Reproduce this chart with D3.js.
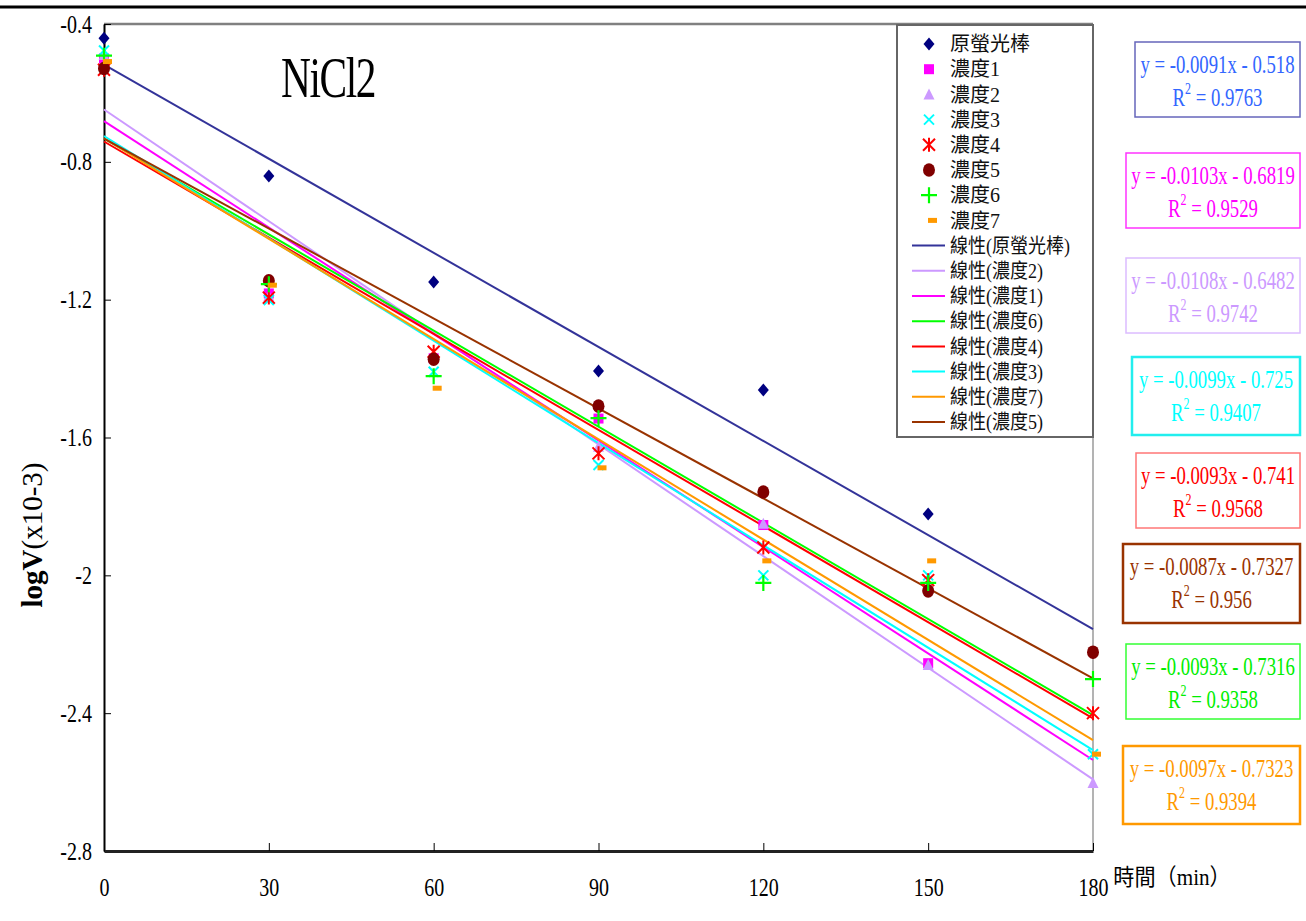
<!DOCTYPE html>
<html><head><meta charset="utf-8">
<script src="https://cdn.jsdelivr.net/npm/d3@7"></script>
<style>body{margin:0;background:#fff} svg{display:block}</style>
</head><body>
<svg id="chart" width="1306" height="921"></svg>
<script>
// Sampling times (min)
const xValues = [0, 30, 60, 90, 120, 150, 180];
const seriesNames = ["原螢光棒", "濃度1", "濃度2", "濃度3", "濃度4", "濃度5", "濃度6", "濃度7"];
// logV readings per series
const originalStick = [-0.441, -0.841, -1.149, -1.407, -1.462, -1.822, -2.224];
const conc1 = [-0.500, -1.182, -1.370, -1.545, -1.854, -2.255, null];
const conc2 = [-0.490, -1.190, -1.365, -1.627, -1.850, -2.260, -2.603];
const conc3 = [-0.477, -1.201, -1.409, -1.680, -2.000, -2.000, -2.519];
const conc4 = [-0.533, -1.194, -1.351, -1.646, -1.919, -2.014, -2.400];
const conc5 = [-0.529, -1.145, -1.373, -1.509, -1.758, -2.045, -2.223];
const conc6 = [-0.492, -1.155, -1.422, -1.544, -2.022, -2.022, -2.301];
const conc7 = [-0.509, -1.158, -1.457, -1.688, -1.958, -1.958, -2.519];
// Linear trend fits
const trendSlopes = [-0.0091, -0.0103, -0.0108, -0.0099, -0.0093, -0.0087, -0.0093, -0.0097];
const trendIntercepts = [-0.518, -0.6819, -0.6482, -0.725, -0.741, -0.7327, -0.7316, -0.7323];
const trendR2 = ["0.9763", "0.9529", "0.9742", "0.9407", "0.9568", "0.956", "0.9358", "0.9394"];
// Axis ticks
const yTickValues = [-0.4, -0.8, -1.2, -1.6, -2, -2.4, -2.8];
const yTickLabels = ["-0.4", "-0.8", "-1.2", "-1.6", "-2", "-2.4", "-2.8"];
const xTickValues = [0, 30, 60, 90, 120, 150, 180];
const xTickLabels = ["0", "30", "60", "90", "120", "150", "180"];
// Legend order of the trend lines
const trendOrder = [0, 2, 1, 6, 4, 3, 7, 5];

const seriesValues = [originalStick, conc1, conc2, conc3, conc4, conc5, conc6, conc7];

// ---- styling ----
const markerTypes = ["diamond", "square", "triangle", "x", "asterisk", "circle", "plus", "dash"];
const markerColors = ["#000080", "#ff00ff", "#cc99ff", "#00ffff", "#ff0000", "#800000", "#00ff00", "#ff9900"];
const lineColors = ["#333399", "#ff00ff", "#cc99ff", "#00ffff", "#ff0000", "#993300", "#00ff00", "#ff9900"];
const eqTextColors = ["#3366ff", "#ff00ff", "#cc99ff", "#00ffff", "#ff0000", "#993300", "#00ee00", "#ff9900"];
const eqBorderColors = ["#6666bb", "#ff33ff", "#dcbcff", "#22eeee", "#ff7777", "#993300", "#33ff33", "#ff9900"];
const eqBorderWidths = [1.5, 1.5, 1.5, 2.5, 1.5, 2.5, 1.5, 2.5];
const eqBoxes = [
  [1135, 42, 165, 75], [1126, 153, 174, 75], [1126, 258, 174, 75], [1132, 357, 168, 78],
  [1136, 453, 164, 75], [1123, 544, 177, 79], [1126, 644, 174, 75], [1123, 746, 177, 78]
];
const serif = "'Liberation Serif','Times New Roman','Noto Sans CJK TC',serif";
const squeeze = 0.8;
const eqSqueeze = 0.75;

const svg = d3.select("#chart");
const margin = {left: 104, right: 1093, top: 24, bottom: 851};

const x = d3.scaleLinear().domain([0, 180]).range([margin.left, margin.right]);
const y = d3.scaleLinear().domain([-2.8, -0.4]).range([margin.bottom, margin.top]);

// page rule at the top
svg.append("line").attr("x1", 0).attr("x2", 1306).attr("y1", 7).attr("y2", 7)
  .attr("stroke", "#000").attr("stroke-width", 3);

// plot frame (top & right)
svg.append("line").attr("x1", x(0)).attr("x2", x(180)).attr("y1", y(-0.4)).attr("y2", y(-0.4))
  .attr("stroke", "#808080").attr("stroke-width", 2.5);
svg.append("line").attr("x1", x(180)).attr("x2", x(180)).attr("y1", y(-0.4)).attr("y2", y(-2.8))
  .attr("stroke", "#9a9a9a").attr("stroke-width", 1.5);

// y axis
const yAxis = svg.append("g").attr("transform", `translate(${x(0)},0)`)
  .call(d3.axisLeft(y).tickValues(yTickValues).tickFormat((d, i) => yTickLabels[i])
    .tickSizeInner(-7).tickSizeOuter(0).tickPadding(15));
yAxis.select(".domain").attr("stroke", "#000").attr("stroke-width", 2);
yAxis.selectAll(".tick line").attr("stroke", "#000").attr("stroke-width", 1);
yAxis.selectAll(".tick text").attr("font-family", serif).attr("font-size", 25)
  .attr("fill", "#000").attr("transform", `scale(${squeeze},1)`);

// x axis
const xAxis = svg.append("g").attr("transform", `translate(0,${y(-2.8)})`)
  .call(d3.axisBottom(x).tickValues(xTickValues).tickFormat((d, i) => xTickLabels[i])
    .tickSizeInner(-8).tickSizeOuter(0).tickPadding(27));
xAxis.select(".domain").attr("stroke", "#222").attr("stroke-width", 3);
xAxis.selectAll(".tick line").attr("stroke", "#000").attr("stroke-width", 1);
xAxis.selectAll(".tick text").attr("font-family", serif).attr("font-size", 25)
  .attr("fill", "#000").attr("transform", `scale(${squeeze},1)`);

// axis titles
svg.append("g").attr("transform", `translate(1172,877) scale(0.92,1)`)
  .append("text").attr("text-anchor", "middle").attr("dy", "0.35em")
  .attr("font-family", serif).attr("font-size", 23).text("時間（min）");

const yTitle = svg.append("text").attr("transform", "translate(42,535) rotate(-90)")
  .attr("text-anchor", "middle").attr("font-family", serif).attr("font-size", 29);
yTitle.append("tspan").attr("font-weight", "bold").text("logV");
yTitle.append("tspan").text("(x10-3)");

// chart title
svg.append("g").attr("transform", `translate(328,77) scale(0.74,1)`)
  .append("text").attr("text-anchor", "middle").attr("dy", "0.35em")
  .attr("font-family", serif).attr("font-size", 56).attr("letter-spacing", -2).text("NiCl2");

// trend lines
const trendG = svg.append("g");
trendOrder.forEach(i => {
  trendG.append("line")
    .attr("x1", x(0)).attr("y1", y(trendIntercepts[i]))
    .attr("x2", x(180)).attr("y2", y(trendSlopes[i] * 180 + trendIntercepts[i]))
    .attr("stroke", lineColors[i]).attr("stroke-width", 2);
});

// marker drawing
function marker(g, type, color) {
  switch (type) {
    case "diamond":
      g.append("path").attr("d", "M0,-6.5L5.5,0L0,6.5L-5.5,0Z").attr("fill", color); break;
    case "square":
      g.append("rect").attr("x", -5).attr("y", -5).attr("width", 10).attr("height", 10).attr("fill", color); break;
    case "triangle":
      g.append("path").attr("d", "M0,-6L5.5,5L-5.5,5Z").attr("fill", color); break;
    case "x":
      g.append("path").attr("d", "M-5,-5L5,5M5,-5L-5,5").attr("stroke", color).attr("stroke-width", 2).attr("fill", "none"); break;
    case "asterisk":
      g.append("path").attr("d", "M-6,-6L6,6M6,-6L-6,6M0,-7L0,7").attr("stroke", color).attr("stroke-width", 2).attr("fill", "none"); break;
    case "circle":
      g.append("ellipse").attr("rx", 6).attr("ry", 6.8).attr("fill", color); break;
    case "plus":
      g.append("path").attr("d", "M-8,0L8,0M0,-8L0,8").attr("stroke", color).attr("stroke-width", 2.2).attr("fill", "none"); break;
    case "dash":
      g.append("rect").attr("x", -1).attr("y", -2.5).attr("width", 9).attr("height", 5).attr("fill", color); break;
  }
}

// data points
const pointsG = svg.append("g");
seriesValues.forEach((vals, i) => {
  vals.forEach((v, j) => {
    if (v === null) return;
    const g = pointsG.append("g").attr("transform", `translate(${x(xValues[j])},${y(v)})`);
    marker(g, markerTypes[i], markerColors[i]);
  });
});

// legend
const legend = svg.append("g");
legend.append("rect").attr("x", 897).attr("y", 25).attr("width", 196).attr("height", 412)
  .attr("fill", "#fff").attr("stroke", "#666").attr("stroke-width", 2);
const rowH = 25.2, row0 = 44;
seriesNames.forEach((name, i) => {
  const cy = row0 + i * rowH;
  const g = legend.append("g").attr("transform", `translate(929,${cy})`);
  marker(g, markerTypes[i], markerColors[i]);
  legend.append("text").attr("x", 950).attr("y", cy).attr("dy", "0.36em")
    .attr("font-family", serif).attr("font-size", 20).attr("fill", "#111").text(name);
});
trendOrder.forEach((si, k) => {
  const cy = row0 + (seriesNames.length + k) * rowH;
  legend.append("line").attr("x1", 912).attr("x2", 945).attr("y1", cy).attr("y2", cy)
    .attr("stroke", lineColors[si]).attr("stroke-width", 2);
  legend.append("g").attr("transform", `translate(950,${cy}) scale(0.9,1)`)
    .append("text").attr("dy", "0.36em")
    .attr("font-family", serif).attr("font-size", 20).attr("fill", "#111")
    .text(`線性(${seriesNames[si]})`);
});

// regression equation boxes
eqBoxes.forEach((b, i) => {
  const [bx, by, bw, bh] = b;
  svg.append("rect").attr("x", bx).attr("y", by).attr("width", bw).attr("height", bh)
    .attr("fill", "#fff").attr("stroke", eqBorderColors[i]).attr("stroke-width", eqBorderWidths[i]);
  const cx = bx + bw / 2;
  const slopeTxt = String(trendSlopes[i]);
  const intTxt = String(Math.abs(trendIntercepts[i]));
  const sign = trendIntercepts[i] < 0 ? "-" : "+";
  svg.append("g").attr("transform", `translate(${cx},${by + 22}) scale(${eqSqueeze},1)`)
    .append("text").attr("text-anchor", "middle").attr("dy", "0.35em")
    .attr("font-family", serif).attr("font-size", 25).attr("fill", eqTextColors[i])
    .text(`y = ${slopeTxt}x ${sign} ${intTxt}`);
  const t = svg.append("g").attr("transform", `translate(${cx},${by + 55}) scale(${eqSqueeze},1)`)
    .append("text").attr("text-anchor", "middle").attr("dy", "0.35em")
    .attr("font-family", serif).attr("font-size", 25).attr("fill", eqTextColors[i]);
  t.append("tspan").text("R");
  t.append("tspan").attr("font-size", 16).attr("dy", "-0.75em").text("2");
  t.append("tspan").attr("dy", "0.47em").text(" = " + trendR2[i]);
});
</script>
</body></html>
